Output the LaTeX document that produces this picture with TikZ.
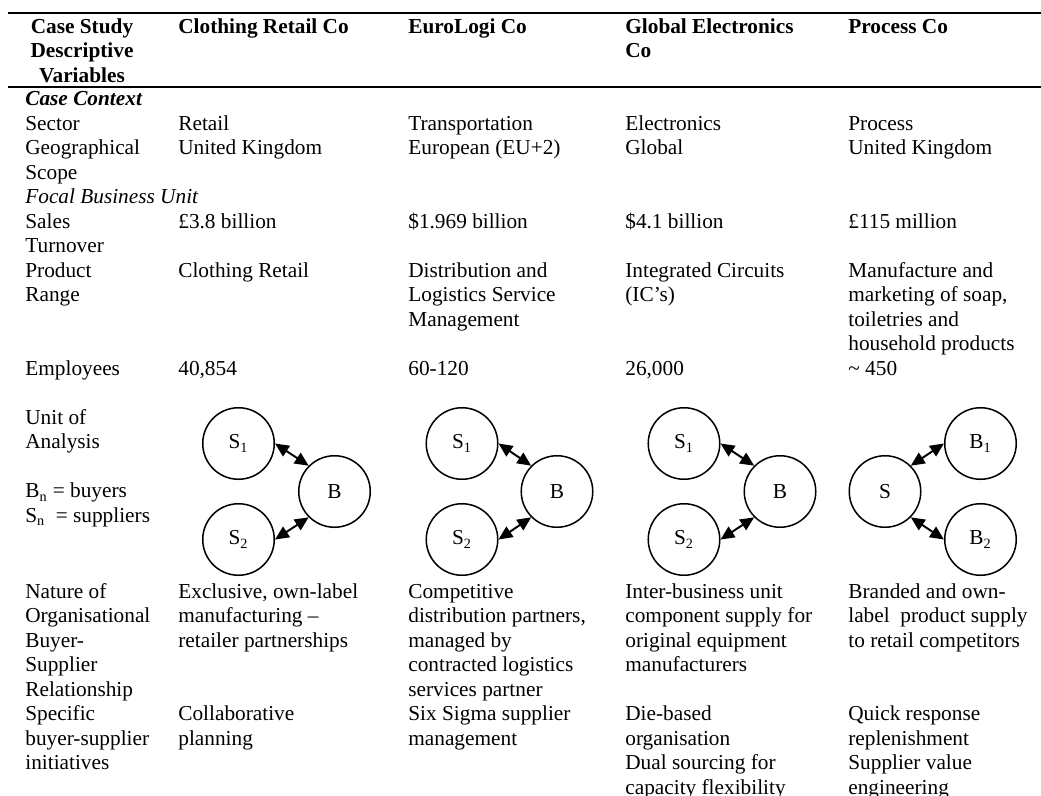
\documentclass[tikz,border=0pt]{standalone}
\usepackage{fontspec}
\setmainfont{Liberation Serif}
\usetikzlibrary{arrows.meta}
\newcommand{\tabfont}{\fontsize{12}{13.8}\selectfont}
\tikzset{
  cell/.style={anchor=north west, yshift=9.66pt, inner sep=0pt, align=left, font=\tabfont},
  head/.style={cell, font=\tabfont\bfseries},
  rule/.style={line width=1.15pt},
  firm/.style={circle, draw, line width=0.85pt, minimum size=40.3pt, inner sep=0pt, font=\tabfont},
  link/.style={line width=1.1pt, >={Triangle[length=7.8pt,width=7pt]}, <->}
}
\begin{document}
\begin{tikzpicture}[x=0.5634pt, y=-0.5634pt]
  \useasboundingbox (0,0) rectangle (1041,796);
  %filets
  \draw[rule] (8,13) -- (1041,13);
  \draw[rule] (8,87) -- (1041,87);
  %en-tete
  \node[head, anchor=north, align=center] (hVar) at (82,33) {\strut Case Study\\Descriptive\\Variables};
  \node[head] (hClo) at (178,33) {\strut Clothing Retail Co};
  \node[head] (hEuro) at (408,33) {\strut EuroLogi Co};
  \node[head] (hGlob) at (625,33) {\strut Global Electronics\\Co};
  \node[head] (hProc) at (848,33) {\strut Process Co};
  %contexte
  \node[cell, font=\tabfont\bfseries\itshape] (vCtx) at (25,105.5) {\strut Case Context};
  \node[cell] (vSect) at (25,130) {\strut Sector};
  \node[cell] (cSect) at (178,130) {\strut Retail};
  \node[cell] (eSect) at (408,130) {\strut Transportation};
  \node[cell] (gSect) at (625,130) {\strut Electronics};
  \node[cell] (pSect) at (848,130) {\strut Process};
  \node[cell] (vGeo) at (25,154.5) {\strut Geographical\\Scope};
  \node[cell] (cGeo) at (178,154.5) {\strut United Kingdom};
  \node[cell] (eGeo) at (408,154.5) {\strut European (EU+2)};
  \node[cell] (gGeo) at (625,154.5) {\strut Global};
  \node[cell] (pGeo) at (848,154.5) {\strut United Kingdom};
  %unite
  \node[cell, font=\tabfont\itshape] (vUnit) at (25,203.5) {\strut Focal Business Unit};
  \node[cell] (vSales) at (25,228) {\strut Sales\\Turnover};
  \node[cell] (cSales) at (178,228) {\strut £3.8 billion};
  \node[cell] (eSales) at (408,228) {\strut \$1.969 billion};
  \node[cell] (gSales) at (625,228) {\strut \$4.1 billion};
  \node[cell] (pSales) at (848,228) {\strut £115 million};
  \node[cell] (vProd) at (25,277) {\strut Product\\Range};
  \node[cell] (cProd) at (178,277) {\strut Clothing Retail};
  \node[cell] (eProd) at (408,277) {\strut Distribution and\\Logistics Service\\Management};
  \node[cell] (gProd) at (625,277) {\strut Integrated Circuits\\(IC’s)};
  \node[cell] (pProd) at (848,277) {\strut Manufacture and\\marketing of soap,\\toiletries and\\household products};
  \node[cell] (vEmp) at (25,375) {\strut Employees};
  \node[cell] (cEmp) at (178,375) {\strut 40,854};
  \node[cell] (eEmp) at (408,375) {\strut 60-120};
  \node[cell] (gEmp) at (625,375) {\strut 26,000};
  \node[cell] (pEmp) at (848,375) {\strut \textasciitilde{} 450};
  %unite d'analyse
  \node[cell] (vAna) at (25,424) {\strut Unit of\\Analysis};
  \node[cell] (vKey) at (25,497.5) {\strut B\textsubscript{n} = buyers\\S\textsubscript{n}\ \ = suppliers};
  \node[firm] (cS1) at (238.5,443.5) {S\textsubscript{1}};
  \node[firm] (cB) at (334.5,491.5) {B};
  \node[firm] (cS2) at (238.5,539.5) {S\textsubscript{2}};
  \draw[link] (cS1.east) -- (cB.north west);
  \draw[link] (cS2.east) -- (cB.south west);
  \node[firm] (eS1) at (462,443.5) {S\textsubscript{1}};
  \node[firm] (eB) at (557,491.5) {B};
  \node[firm] (eS2) at (462,539.5) {S\textsubscript{2}};
  \draw[link] (eS1.east) -- (eB.north west);
  \draw[link] (eS2.east) -- (eB.south west);
  \node[firm] (gS1) at (684,443.5) {S\textsubscript{1}};
  \node[firm] (gB) at (780,491.5) {B};
  \node[firm] (gS2) at (684,539.5) {S\textsubscript{2}};
  \draw[link] (gS1.east) -- (gB.north west);
  \draw[link] (gS2.east) -- (gB.south west);
  \node[firm] (pS) at (885,491.5) {S};
  \node[firm] (pB1) at (980.5,443.5) {B\textsubscript{1}};
  \node[firm] (pB2) at (980.5,539.5) {B\textsubscript{2}};
  \draw[link] (pS.north east) -- (pB1.west);
  \draw[link] (pS.south east) -- (pB2.west);
  %relations
  \node[cell] (vRel) at (25,598) {\strut Nature of\\Organisational\\Buyer-\\Supplier\\Relationship};
  \node[cell] (cRel) at (178,598) {\strut Exclusive, own-label\\manufacturing –\\retailer partnerships};
  \node[cell] (eRel) at (408,598) {\strut Competitive\\distribution partners,\\managed by\\contracted logistics\\services partner};
  \node[cell] (gRel) at (625,598) {\strut Inter-business unit\\component supply for\\original equipment\\manufacturers};
  \node[cell] (pRel) at (848,598) {\strut Branded and own-\\label\ \ product supply\\to retail competitors};
  \node[cell] (vInit) at (25,720.5) {\strut Specific\\buyer-supplier\\initiatives};
  \node[cell] (cInit) at (178,720.5) {\strut Collaborative\\planning};
  \node[cell] (eInit) at (408,720.5) {\strut Six Sigma supplier\\management};
  \node[cell] (gInit) at (625,720.5) {\strut Die-based\\organisation\\Dual sourcing for\\capacity flexibility};
  \node[cell] (pInit) at (848,720.5) {\strut Quick response\\replenishment\\Supplier value\\engineering};
\end{tikzpicture}
\end{document}
